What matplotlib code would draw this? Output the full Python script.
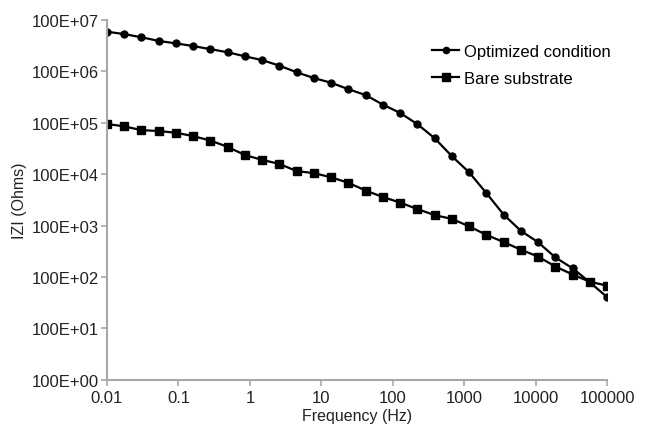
import numpy as np
import matplotlib
matplotlib.use('Agg')
import matplotlib.pyplot as plt
from matplotlib.ticker import FixedLocator, FixedFormatter, NullLocator

plt.rcParams['font.family'] = ['Liberation Sans', 'DejaVu Sans']

freq = [0.01, 0.0174, 0.0304, 0.053, 0.0924, 0.161, 0.281, 0.489, 0.853, 1.49,
        2.59, 4.52, 7.88, 13.7, 23.9, 41.8, 72.8, 127, 221, 386,
        672, 1170, 2040, 3560, 6210, 10800, 18900, 32900, 57400, 100000]

z_optimized = [5.9e6, 5.3e6, 4.6e6, 3.9e6, 3.5e6, 3.1e6, 2.7e6, 2.35e6, 1.96e6, 1.65e6,
               1.29e6, 9.6e5, 7.4e5, 6.0e5, 4.5e5, 3.45e5, 2.25e5, 1.55e5, 9.4e4, 5.0e4,
               2.24e4, 1.09e4, 4.3e3, 1.64e3, 7.9e2, 4.76e2, 2.4e2, 1.48e2, 7.9e1, 4.06e1]

z_bare = [9.5e4, 8.5e4, 7.2e4, 6.9e4, 6.4e4, 5.5e4, 4.5e4, 3.4e4, 2.35e4, 1.9e4,
          1.58e4, 1.15e4, 1.05e4, 8.7e3, 6.8e3, 4.8e3, 3.6e3, 2.8e3, 2.1e3, 1.6e3,
          1.35e3, 9.7e2, 6.6e2, 4.8e2, 3.4e2, 2.5e2, 1.6e2, 1.12e2, 8.1e1, 6.8e1]

x_ticks = [0.01, 0.1, 1, 10, 100, 1000, 10000, 100000]
x_labels = ['0.01', '0.1', '1', '10', '100', '1000', '10000', '100000']
y_ticks = [1, 10, 100, 1e3, 1e4, 1e5, 1e6, 1e7]
y_labels = ['100E+00', '100E+01', '100E+02', '100E+03',
            '100E+04', '100E+05', '100E+06', '100E+07']

fig = plt.figure(figsize=(6.5, 4.27), dpi=100)
ax = fig.add_axes([0.1646, 0.108, 0.7694, 0.843])

ax.plot(freq, z_optimized, color='black', lw=1.6, marker='o', ms=5,
        label='Optimized condition')
ax.plot(freq, z_bare, color='black', lw=1.6, marker='s', ms=6,
        label='Bare substrate')

ax.set_xscale('log')
ax.set_yscale('log')
ax.set_xlim(0.01, 100000)
ax.set_ylim(1, 1e7)

ax.xaxis.set_major_locator(FixedLocator(x_ticks))
ax.xaxis.set_major_formatter(FixedFormatter(x_labels))
ax.yaxis.set_major_locator(FixedLocator(y_ticks))
ax.yaxis.set_major_formatter(FixedFormatter(y_labels))
ax.xaxis.set_minor_locator(NullLocator())
ax.yaxis.set_minor_locator(NullLocator())

for s in ['top', 'right']:
    ax.spines[s].set_visible(False)
for s in ['left', 'bottom']:
    ax.spines[s].set_color('#a8a8a8')
    ax.spines[s].set_linewidth(1.5)
ax.tick_params(colors='#a8a8a8', labelcolor='#222222', labelsize=12,
               length=4, width=1.2, direction='out')
ax.tick_params(axis='y', pad=2)

ax.set_xlabel('Frequency (Hz)', fontsize=11.5, color='#222222', labelpad=2)
ax.set_ylabel('IZI (Ohms)', fontsize=11.5, color='#222222', labelpad=3)

ax.legend(loc='upper right', bbox_to_anchor=(1.037, 0.975), frameon=False,
          fontsize=12, handlelength=1.6, handletextpad=0.3, labelspacing=0.7,
          markerscale=0.9)

fig.savefig('out.png', dpi=100, facecolor='white')
